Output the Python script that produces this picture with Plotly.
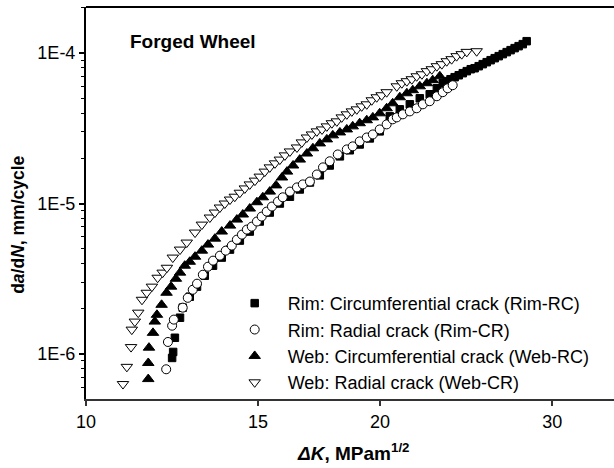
import plotly.graph_objects as go

# Rim: circumferential crack (Rim-RC), filled squares
rim_rc_dk = [12.25, 12.28, 12.33, 12.48, 12.56, 12.77, 12.99, 13.23, 13.49, 13.77,
             14.04, 14.37, 14.71, 15.06, 15.42, 15.79, 16.17, 16.55, 16.95, 17.35,
             17.76, 18.19, 18.62, 19.06, 19.52, 19.98, 20.46, 20.95, 21.45, 21.96,
             22.48, 22.86, 23.18, 23.40, 23.61, 23.84, 24.07, 24.30, 24.53, 24.76,
             24.99, 25.23, 25.47, 25.71, 25.95, 26.20, 26.45, 26.70, 26.95, 27.20,
             27.46, 27.72, 27.99, 28.25]
rim_rc_rate = [0.94, 1.03, 1.28, 1.74, 2.03, 2.40, 2.80, 3.31, 3.86, 4.37,
               4.94, 5.67, 6.51, 7.59, 8.71, 10.0, 11.1, 12.4, 13.8, 15.4,
               17.9, 20.6, 22.6, 24.7, 27.1, 30.2, 38.0, 42.3, 45.7, 50.1,
               53.3, 58.4, 63.1, 65.1, 67.1, 69.2, 71.3, 73.6, 75.9, 78.2,
               79.4, 81.9, 84.5, 87.1, 89.8, 92.6, 95.5, 98.5, 101.6, 104.7,
               108.0, 111.3, 114.8, 120.1]

# Rim: radial crack (Rim-CR), open circles
rim_cr_dk = [12.08, 12.13, 12.25, 12.30, 12.56, 12.71, 12.86, 12.99, 13.17, 13.33,
             13.49, 13.71, 13.90, 14.10, 14.27, 14.44, 14.61, 14.78, 14.96, 15.13,
             15.31, 15.50, 15.72, 15.90, 16.17, 16.44, 16.67, 16.95, 17.23, 17.48,
             17.76, 18.10, 18.49, 18.75, 19.06, 19.38, 19.66, 19.98, 20.31, 20.60,
             20.80, 21.10, 21.45, 21.80, 22.12, 22.48, 22.86, 23.18, 23.45, 23.73]
rim_cr_rate = [0.79, 1.20, 1.54, 1.69, 2.03, 2.36, 2.67, 2.93, 3.36, 3.80,
               4.17, 4.50, 4.86, 5.25, 5.75, 6.21, 6.71, 7.02, 7.59, 8.19,
               8.84, 9.55, 10.3, 11.0, 12.0, 12.8, 13.4, 14.0, 15.6, 17.4,
               19.1, 21.2, 22.9, 24.0, 25.9, 27.5, 28.8, 31.1, 33.6, 36.3,
               37.4, 39.2, 41.0, 43.0, 45.7, 47.9, 51.7, 55.0, 58.4, 61.2]

# Web: circumferential crack (Web-RC), filled triangles
web_rc_dk = [11.58, 11.58, 11.60, 11.71, 11.76, 11.82, 11.95, 12.09, 12.22, 12.36,
             12.48, 12.62, 12.77, 12.93, 13.14, 13.33, 13.55, 13.77, 14.04, 14.27,
             14.47, 14.71, 14.96, 15.17, 15.42, 15.65, 15.87, 16.06, 16.29, 16.55,
             16.83, 17.07, 17.35, 17.64, 17.89, 18.19, 18.49, 18.75, 19.06, 19.38,
             19.66, 19.98, 20.31, 20.60, 20.95, 21.30, 21.60, 21.96, 22.33, 22.64,
             23.02]
web_rc_rate = [0.68, 0.87, 1.10, 1.38, 1.64, 1.82, 2.12, 2.55, 2.80, 3.16,
               3.47, 3.86, 4.10, 4.43, 4.86, 5.33, 5.84, 6.51, 7.13, 7.82,
               8.45, 9.26, 10.2, 11.0, 12.0, 13.2, 14.9, 16.3, 17.9, 19.6,
               21.5, 23.3, 25.1, 26.7, 28.4, 29.7, 31.1, 32.6, 34.2, 35.8,
               37.4, 39.8, 43.0, 46.4, 50.9, 54.1, 56.7, 60.2, 63.1, 66.1,
               70.2]

# Web: radial crack (Web-CR), open down triangles
web_cr_dk = [10.91, 11.01, 11.12, 11.14, 11.22, 11.31, 11.41, 11.54, 11.68, 11.84,
             11.98, 12.10, 12.27, 12.48, 12.68, 12.93, 13.14, 13.39, 13.55, 13.71,
             13.87, 14.04, 14.20, 14.37, 14.54, 14.71, 14.89, 15.06, 15.24, 15.42,
             15.61, 15.79, 15.98, 16.17, 16.44, 16.63, 16.83, 17.03, 17.23, 17.44,
             17.64, 17.85, 18.06, 18.27, 18.49, 18.71, 18.93, 19.15, 19.38, 19.61,
             19.84, 20.07, 20.31, 20.80, 21.05, 21.30, 21.55, 21.80, 22.07, 22.33,
             22.59, 22.86, 23.13, 23.40, 23.67, 23.95, 24.24, 24.53, 25.11]
web_cr_rate = [0.63, 0.82, 1.11, 1.45, 1.64, 1.88, 2.29, 2.55, 2.80, 3.21,
               3.47, 3.74, 4.37, 4.94, 5.50, 6.41, 7.24, 8.07, 8.71, 9.41,
               10.0, 10.63, 11.1, 11.8, 12.6, 13.4, 14.2, 15.1, 16.3, 17.4,
               18.5, 19.6, 20.9, 22.2, 23.6, 25.5, 27.5, 28.8, 30.2, 31.1,
               32.6, 34.2, 35.2, 37.4, 39.2, 41.0, 42.3, 44.3, 45.7, 48.6,
               50.9, 52.5, 55.0, 60.2, 63.1, 65.1, 67.1, 70.2, 72.4, 75.9,
               78.2, 81.9, 84.5, 88.4, 91.2, 95.5, 98.5, 102.0, 103.0]

x_ticks = [10, 15, 20, 30]
y_ticks = [1e-6, 1e-5, 1e-4]
y_ticktext = ["1E-6", "1E-5", "1E-4"]
y_minor = [m * 10.0**e for e in (-7, -6, -5, -4) for m in range(2, 10)]

FONT = "Liberation Sans, Arial, sans-serif"


def e6(vals):
    return [v * 1e-6 for v in vals]


fig = go.Figure()

# drawing order: squares, filled triangles, circles, open triangles (legend order via rank)
series = [
    ("Rim: Circumferential crack (Rim-RC)", rim_rc_dk, rim_rc_rate, "square", "black", 7.5, 1),
    ("Web: Circumferential crack (Web-RC)", web_rc_dk, web_rc_rate, "triangle-up", "black", 10, 3),
    ("Rim: Radial crack (Rim-CR)", rim_cr_dk, rim_cr_rate, "circle", "white", 9, 2),
    ("Web: Radial crack (Web-CR)", web_cr_dk, web_cr_rate, "triangle-down", "white", 10, 4),
]
for name, xs, ys, sym, fill, size, rank in series:
    fig.add_trace(go.Scatter(
        x=xs, y=e6(ys), mode="markers", name=name, legendrank=rank,
        marker={"symbol": sym, "color": fill, "size": size,
                "line": {"color": "black", "width": 1}},
    ))

fig.update_layout(
    width=614,
    height=468,
    margin={"l": 86, "r": 0, "t": 7, "b": 69},
    paper_bgcolor="white",
    plot_bgcolor="white",
    font={"family": FONT, "size": 18, "color": "black"},
    showlegend=True,
    legend={
        "x": 0.257, "y": 0.291, "xanchor": "left", "yanchor": "top",
        "bgcolor": "rgba(0,0,0,0)", "font": {"size": 18}, "itemwidth": 56,
        "tracegroupgap": 0,
    },
)

fig.update_xaxes(
    type="log", range=[1, 1.5404], showgrid=False, zeroline=False,
    showline=True, linewidth=2, linecolor="#333",
    tickmode="array", tickvals=x_ticks, ticktext=[str(t) for t in x_ticks],
    ticks="outside", ticklen=5, tickwidth=1.5, tickcolor="#333",
    ticklabelstandoff=0,
)
fig.update_yaxes(
    type="log", range=[-6.30, -3.693], showgrid=False, zeroline=False,
    showline=True, linewidth=2, linecolor="black",
    tickmode="array", tickvals=y_ticks, ticktext=y_ticktext,
    ticks="outside", ticklen=5, tickwidth=1.5, tickcolor="black",
    minor={"tickmode": "array", "tickvals": y_minor, "ticks": "outside",
           "ticklen": 3.5, "tickwidth": 1, "tickcolor": "black", "showgrid": False},
)

# top frame line
fig.add_shape(type="line", xref="paper", yref="paper", x0=0, x1=1, y0=1, y1=1,
              line={"color": "black", "width": 2})

fig.add_annotation(text="<b>Forged Wheel</b>", xref="paper", yref="paper",
                   x=0.0795, y=0.913, xanchor="left", yanchor="middle",
                   showarrow=False, font={"size": 19})
fig.add_annotation(text="<b>d<i>a</i>/d<i>N</i>, mm/cycle</b>", xref="paper", yref="paper",
                   x=-0.129, y=0.444, textangle=-90, xanchor="center", yanchor="middle",
                   showarrow=False, font={"size": 17.5})
fig.add_annotation(text="<b><i>ΔK</i>, MPam<sup>1/2</sup></b>", xref="paper", yref="paper",
                   x=0.506, y=-0.171, xanchor="center", yanchor="bottom",
                   showarrow=False, font={"size": 19})

fig.write_html(
    "out.html",
    config={"displayModeBar": False},
    post_script="document.body.style.margin='0';document.body.style.overflow='hidden';",
)
